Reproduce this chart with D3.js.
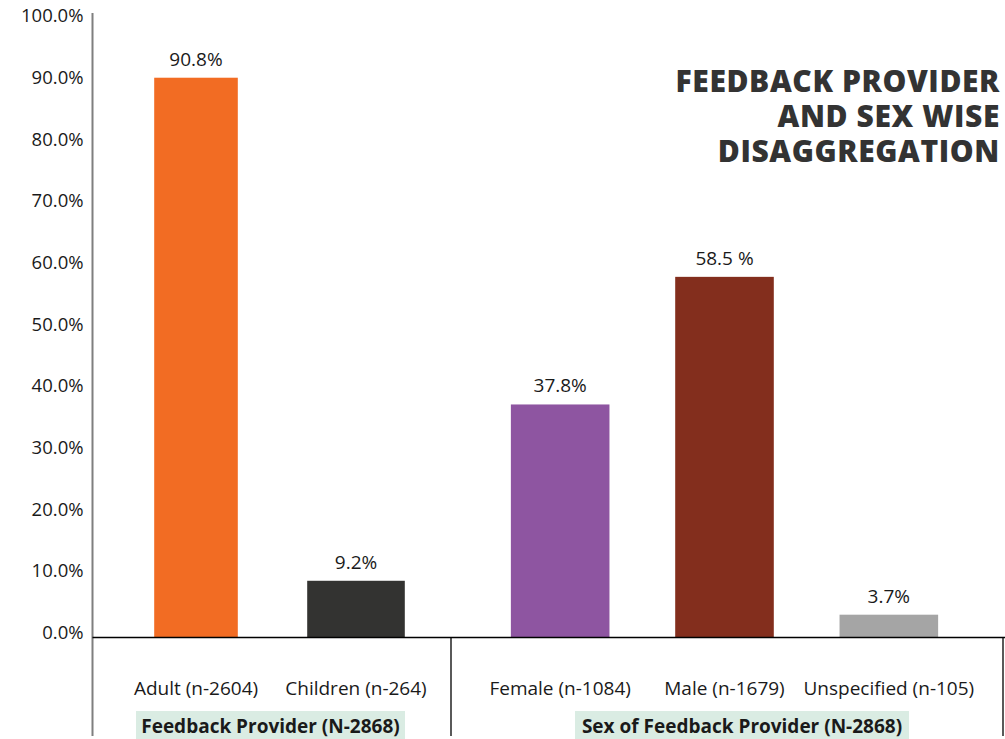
<!DOCTYPE html>
<html lang="en">
<head>
<meta charset="utf-8">
<title>Feedback provider and sex wise disaggregation</title>
<script src="https://cdn.jsdelivr.net/npm/d3@7"></script>
<style>
  body { margin: 0; background: #fff; }
  text { font-family: "Open Sans", sans-serif; }
</style>
</head>
<body>
<script>
// data
var groupNames = ["Feedback Provider (N-2868)", "Sex of Feedback Provider (N-2868)"];
var providerCats = ["Adult (n-2604)", "Children (n-264)"];
var providerVals = [90.8, 9.2];
var providerLabels = ["90.8%", "9.2%"];
var sexCats = ["Female (n-1084)", "Male (n-1679)", "Unspecified (n-105)"];
var sexVals = [37.8, 58.5, 3.7];
var sexLabels = ["37.8%", "58.5 %", "3.7%"];
var yTicks = [0, 10, 20, 30, 40, 50, 60, 70, 80, 90, 100];
var titleLines = ["FEEDBACK PROVIDER", "AND SEX WISE", "DISAGGREGATION"];

var colors = {
    "Adult (n-2604)": "#f26c23",
    "Children (n-264)": "#333331",
    "Female (n-1084)": "#8e55a1",
    "Male (n-1679)": "#832e1d",
    "Unspecified (n-105)": "#a5a5a5"
};

var w = 1005, h = 739;
var axisX = 92.5, zeroY = 637.5, bottom = 736;

var svg = d3.select("body").append("svg")
    .attr("width", w)
    .attr("height", h);

var y = d3.scaleLinear().domain([0, 100]).range([zeroY, 21]);

// two x scales, one for each group
var x1 = d3.scaleBand().domain(providerCats).range([116, 436])
    .paddingInner(0.39).paddingOuter(0.195);
var x2 = d3.scaleBand().domain(sexCats).range([478, 971])
    .paddingInner(0.40).paddingOuter(0.20);

var bars = [];
providerCats.forEach(function(c, i) {
    bars.push({cat: c, v: providerVals[i], lab: providerLabels[i], x: x1});
});
sexCats.forEach(function(c, i) {
    bars.push({cat: c, v: sexVals[i], lab: sexLabels[i], x: x2});
});

// the adult bar is drawn a little narrower in the original
function inset(d) { return d.cat === providerCats[0] ? 7 : 0; }

// y axis, labels only
var yAxis = svg.append("g")
    .attr("transform", "translate(" + axisX + ",0)")
    .call(d3.axisLeft(y).tickValues(yTicks).tickSize(0).tickPadding(9)
        .tickFormat(function(d) { return d3.format(".1f")(d) + "%"; }));
yAxis.select(".domain").remove();
yAxis.selectAll("text")
    .attr("dy", "0.05em")
    .style("font-family", "Open Sans, sans-serif")
    .style("font-size", "18.5px")
    .attr("fill", "#1a1a1a");

svg.selectAll("rect.bar")
    .data(bars)
    .enter()
    .append("rect")
    .attr("class", "bar")
    .attr("x", function(d) { return d.x(d.cat) + inset(d); })
    .attr("width", function(d) { return d.x.bandwidth() - 2 * inset(d); })
    .attr("y", function(d) { return y(d.v); })
    .attr("height", function(d) { return zeroY - y(d.v); })
    .attr("fill", function(d) { return colors[d.cat]; });

svg.selectAll("text.val")
    .data(bars)
    .enter()
    .append("text")
    .attr("class", "val")
    .attr("x", function(d) { return d.x(d.cat) + d.x.bandwidth() / 2; })
    .attr("y", function(d) { return y(d.v) - 12; })
    .attr("text-anchor", "middle")
    .attr("font-size", 19)
    .attr("fill", "#1a1a1a")
    .text(function(d) { return d.lab; });

svg.selectAll("text.cat")
    .data(bars)
    .enter()
    .append("text")
    .attr("class", "cat")
    .attr("x", function(d) { return d.x(d.cat) + d.x.bandwidth() / 2; })
    .attr("y", 695)
    .attr("text-anchor", "middle")
    .attr("font-size", 19)
    .attr("fill", "#1a1a1a")
    .text(function(d) { return d.cat; });

// group label boxes
var groups = [
    {name: groupNames[0], x0: 136, x1: 405},
    {name: groupNames[1], x0: 575, x1: 909}
];
svg.selectAll("rect.grp")
    .data(groups)
    .enter()
    .append("rect")
    .attr("class", "grp")
    .attr("x", function(d) { return d.x0; })
    .attr("y", 711)
    .attr("width", function(d) { return d.x1 - d.x0; })
    .attr("height", 28)
    .attr("fill", "#daece3");
svg.selectAll("text.grp")
    .data(groups)
    .enter()
    .append("text")
    .attr("class", "grp")
    .attr("x", function(d) { return (d.x0 + d.x1) / 2; })
    .attr("y", 733)
    .attr("text-anchor", "middle")
    .attr("font-size", 19)
    .attr("font-weight", "bold")
    .attr("fill", "#1a1a1a")
    .text(function(d) { return d.name; });

// lines
svg.append("line")
    .attr("x1", axisX).attr("x2", axisX)
    .attr("y1", 13).attr("y2", bottom)
    .attr("stroke", "#7f7f7f").attr("stroke-width", 2);
svg.append("line")
    .attr("x1", axisX).attr("x2", w)
    .attr("y1", zeroY).attr("y2", zeroY)
    .attr("stroke", "#000").attr("stroke-width", 1.3);
[451, 1003].forEach(function(xx) {
    svg.append("line")
        .attr("x1", xx).attr("x2", xx)
        .attr("y1", zeroY).attr("y2", bottom)
        .attr("stroke", "#000").attr("stroke-width", 1.3);
});

// title
svg.selectAll("text.title")
    .data(titleLines)
    .enter()
    .append("text")
    .attr("class", "title")
    .attr("x", 1000)
    .attr("y", function(d, i) { return 92 + i * 35; })
    .attr("text-anchor", "end")
    .attr("font-size", 30)
    .attr("font-weight", 800)
    .attr("letter-spacing", 0.6)
    .attr("fill", "#333")
    .text(function(d) { return d; });
</script>
</body>
</html>
